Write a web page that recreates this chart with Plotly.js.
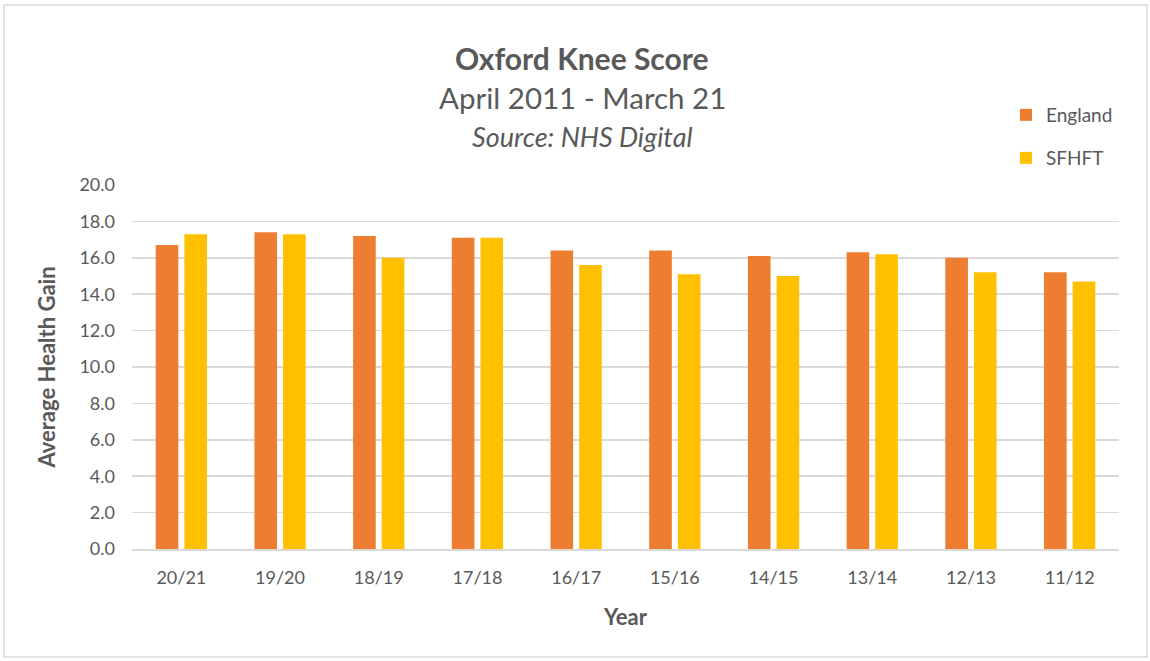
<!DOCTYPE html>
<html>
<head>
<meta charset="utf-8">
<script src="https://cdn.plot.ly/plotly-3.0.1.min.js"></script>
<style>
html,body{margin:0;padding:0;background:#fff;}
#chart{width:1150px;height:661px;}
</style>
</head>
<body>
<div id="chart"></div>
<script>
const years = ["20/21","19/20","18/19","17/18","16/17","15/16","14/15","13/14","12/13","11/12"];
const england = [16.7,17.4,17.2,17.1,16.4,16.4,16.1,16.3,16.0,15.2];
const sfhft = [17.3,17.3,16.0,17.1,15.6,15.1,15.0,16.2,15.2,14.7];
const yTicks = [0,2,4,6,8,10,12,14,16,18,20];
const yTickText = yTicks.map(v => v.toFixed(1));

const W = 1150, H = 661, L = 132, R = 31, T = 185, B = 112;
const pw = W - L - R, ph = H - T - B;
const px = x => (x - L) / pw;
const py = y => (H - B - y) / ph;

const font = "Lato, 'Open Sans', sans-serif";
const grey = "#595959";

const data = [
  {type:"bar", name:"England", x:years, y:england, marker:{color:"#ED7D31"}, legend:"legend", hoverinfo:"y"},
  {type:"bar", name:"SFHFT", x:years, y:sfhft, marker:{color:"#FFC000"}, legend:"legend2", hoverinfo:"y"}
];

const legendCommon = {xanchor:"left", yanchor:"top", itemwidth:30, font:{size:19, color:grey}, bgcolor:"rgba(0,0,0,0)"};

const layout = {
  width: W, height: H,
  margin: {l:L, r:R, t:T, b:B},
  paper_bgcolor: "#fff", plot_bgcolor: "#fff",
  font: {family: font, color: grey, size: 17},
  barmode: "group", bargap: 0.42, bargroupgap: 0.21,
  showlegend: true,
  legend: Object.assign({x: px(1006), y: py(96)}, legendCommon),
  legend2: Object.assign({x: px(1006), y: py(139)}, legendCommon),
  xaxis: {
    type:"category", showgrid:false, showline:true, linecolor:"#d9d9d9", linewidth:1.5,
    ticks:"", ticklabelstandoff:12, tickfont:{size:18, color:grey},
    title:{text:"<b>Year</b>", font:{size:22, color:grey}, standoff:22}
  },
  yaxis: {
    range:[0,20], tickvals:yTicks, ticktext:yTickText, showgrid:true, gridcolor:"#d9d9d9", gridwidth:1.5,
    zeroline:false, showline:false, ticks:"", ticklabelstandoff:16, tickfont:{size:18, color:grey},
    title:{text:"<b>Average Health Gain</b>", font:{size:22, color:grey}, standoff:17}
  },
  annotations: [
    {text:"<b>Oxford Knee Score</b>", xref:"paper", yref:"paper", x:px(582), y:py(58), xanchor:"center", yanchor:"middle", showarrow:false, font:{size:30, color:grey}},
    {text:"April 2011 - March 21", xref:"paper", yref:"paper", x:px(582), y:py(98), xanchor:"center", yanchor:"middle", showarrow:false, font:{size:29.5, color:grey}},
    {text:"<i>Source: NHS Digital</i>", xref:"paper", yref:"paper", x:px(582), y:py(136), xanchor:"center", yanchor:"middle", showarrow:false, font:{size:27, color:grey}}
  ],
  shapes: [
    {type:"rect", xref:"paper", yref:"paper", x0:px(4), x1:px(1147), y0:py(657), y1:py(5), line:{color:"#d9d9d9", width:1.5}, fillcolor:"rgba(0,0,0,0)", layer:"below"}
  ]
};

Plotly.newPlot("chart", data, layout, {displayModeBar:false, staticPlot:true});
</script>
</body>
</html>
